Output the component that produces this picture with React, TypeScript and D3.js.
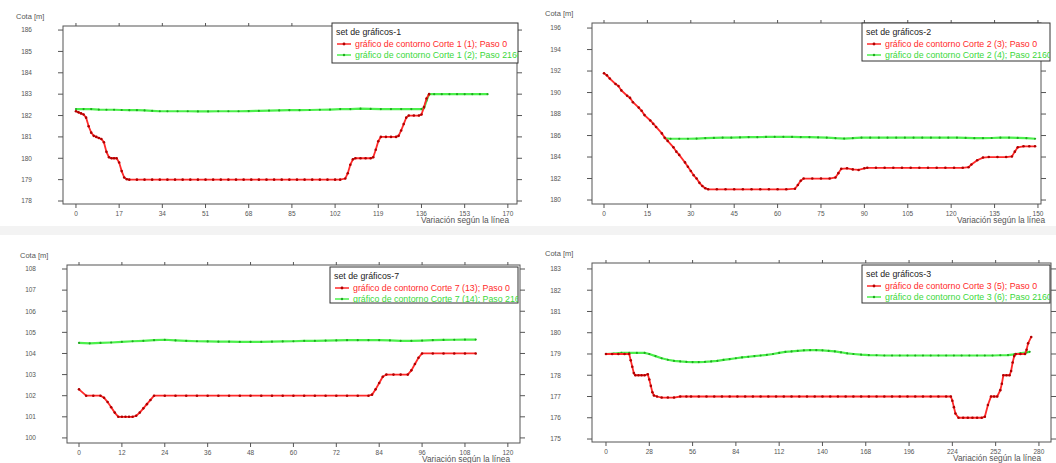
import React from "react";
import * as d3 from "d3";

type Pt = [number, number];

// ---------- Panel 1 ----------
const P1_X_TICKS = [0, 17, 34, 51, 68, 85, 102, 119, 136, 153, 170];
const P1_Y_TICKS = [178, 179, 180, 181, 182, 183, 184, 185, 186];
const P1_RED: Pt[] = [
  [0, 182.2], [1, 182.15], [2, 182.1], [3, 182.05], [4, 181.9], [5, 181.5], [6, 181.2], [7, 181.05], [8, 181.0], [9, 180.95],
  [10, 180.9], [11, 180.75], [12, 180.3], [13, 180.05], [14, 180.0], [15, 180.0], [16, 180.0], [17, 179.8], [18, 179.4], [19, 179.1],
  [20, 179.02], [21, 179.0], [24, 179], [27, 179], [30, 179], [33, 179], [36, 179], [39, 179], [42, 179], [45, 179], [48, 179],
  [51, 179], [54, 179], [57, 179], [60, 179], [63, 179], [66, 179], [69, 179], [72, 179], [75, 179], [78, 179], [81, 179],
  [84, 179], [87, 179], [90, 179], [93, 179], [96, 179], [99, 179], [102, 179], [104, 179], [106, 179.05], [107, 179.3],
  [108, 179.7], [109, 179.95], [110, 180.0], [112, 180], [114, 180], [116, 180], [117, 180.05], [118, 180.4], [119, 180.8],
  [120, 181.0], [122, 181], [124, 181], [126, 181], [127, 181.05], [128, 181.3], [129, 181.6], [130, 181.9], [131, 182.0],
  [133, 182], [135, 182], [136, 182.05], [137, 182.4], [138, 182.8], [139, 183.0],
];
const P1_GREEN: Pt[] = [
  [0, 182.3], [3, 182.3], [6, 182.3], [9, 182.28], [12, 182.27], [15, 182.27], [18, 182.26], [21, 182.25], [24, 182.25],
  [27, 182.24], [30, 182.22], [33, 182.2], [36, 182.2], [40, 182.2], [44, 182.2], [48, 182.19], [52, 182.19], [56, 182.2],
  [60, 182.2], [64, 182.2], [68, 182.21], [72, 182.22], [76, 182.23], [80, 182.24], [84, 182.25], [88, 182.25], [92, 182.26],
  [96, 182.27], [100, 182.28], [104, 182.3], [108, 182.3], [112, 182.32], [116, 182.31], [120, 182.3], [124, 182.3],
  [128, 182.3], [132, 182.3], [136, 182.3], [137, 182.35], [138, 182.7], [139, 183.0], [141, 183], [144, 183], [147, 183],
  [150, 183], [153, 183], [156, 183], [159, 183], [162, 183],
];

// ---------- Panel 2 ----------
const P2_X_TICKS = [0, 15, 30, 45, 60, 75, 90, 105, 120, 135, 150];
const P2_Y_TICKS = [180, 182, 184, 186, 188, 190, 192, 194, 196];
const P2_RED: Pt[] = [
  [0, 191.8], [1, 191.6], [2, 191.3], [4, 190.8], [5, 190.6], [6, 190.2], [8, 189.7], [9, 189.5], [10, 189.1], [12, 188.6],
  [13, 188.3], [14, 187.9], [16, 187.4], [17, 187.1], [18, 186.8], [20, 186.2], [21, 185.8], [22, 185.5], [24, 184.9],
  [25, 184.5], [26, 184.2], [28, 183.5], [29, 183.1], [30, 182.7], [31, 182.3], [32, 182.0], [33, 181.6], [34, 181.3],
  [35, 181.1], [36, 181.0], [39, 181], [42, 181], [45, 181], [48, 181], [51, 181], [54, 181], [57, 181], [60, 181], [63, 181],
  [66, 181.05], [67, 181.4], [68, 181.8], [69, 182.0], [72, 182], [75, 182], [78, 182], [80, 182.1], [81, 182.5], [82, 182.9],
  [84, 182.95], [86, 182.85], [88, 182.8], [90, 182.95], [91, 183.0], [94, 183], [97, 183], [100, 183], [103, 183], [106, 183],
  [109, 183], [112, 183], [115, 183], [118, 183], [121, 183], [124, 183], [126, 183.05], [127, 183.3], [129, 183.7],
  [131, 183.95], [133, 184], [136, 184], [139, 184], [141, 184.05], [142, 184.5], [143, 184.9], [145, 185.0], [147, 185.0],
  [149, 185.0],
];
const P2_GREEN: Pt[] = [
  [21, 185.75], [23, 185.7], [26, 185.7], [29, 185.7], [32, 185.72], [35, 185.75], [38, 185.78], [41, 185.8], [44, 185.8],
  [47, 185.82], [50, 185.85], [53, 185.85], [56, 185.87], [59, 185.88], [62, 185.88], [65, 185.87], [68, 185.86], [71, 185.85],
  [74, 185.82], [77, 185.8], [80, 185.75], [83, 185.72], [86, 185.75], [89, 185.8], [92, 185.8], [95, 185.8], [98, 185.8],
  [101, 185.8], [104, 185.8], [107, 185.8], [110, 185.8], [113, 185.8], [116, 185.8], [119, 185.8], [122, 185.8],
  [125, 185.78], [128, 185.75], [131, 185.75], [134, 185.77], [137, 185.8], [140, 185.8], [143, 185.78], [146, 185.75],
  [149, 185.7],
];

// ---------- Panel 3 ----------
const P3_X_TICKS = [0, 12, 24, 36, 48, 60, 72, 84, 96, 108, 120];
const P3_Y_TICKS = [100, 101, 102, 103, 104, 105, 106, 107, 108];
const P3_RED: Pt[] = [
  [0, 102.3], [2, 102.0], [4, 102.0], [6, 102.0], [7, 101.9], [8, 101.7], [9, 101.45], [10, 101.2], [11, 101.0], [12, 101],
  [13, 101], [14, 101], [15, 101], [16, 101.05], [17, 101.2], [18, 101.4], [19, 101.6], [20, 101.8], [21, 102.0], [24, 102],
  [27, 102], [30, 102], [33, 102], [36, 102], [39, 102], [42, 102], [45, 102], [48, 102], [51, 102], [54, 102], [57, 102],
  [60, 102], [63, 102], [66, 102], [69, 102], [72, 102], [75, 102], [78, 102], [81, 102], [82, 102.05], [83, 102.3],
  [84, 102.6], [85, 102.9], [86, 103.0], [88, 103], [90, 103], [92, 103], [93, 103.2], [94, 103.5], [95, 103.8], [96, 104.0],
  [99, 104], [102, 104], [105, 104], [108, 104], [111, 104],
];
const P3_GREEN: Pt[] = [
  [0, 104.5], [3, 104.48], [6, 104.5], [9, 104.52], [12, 104.55], [15, 104.58], [18, 104.6], [21, 104.63], [24, 104.65],
  [27, 104.62], [30, 104.6], [33, 104.58], [36, 104.57], [39, 104.56], [42, 104.56], [45, 104.55], [48, 104.55], [51, 104.55],
  [54, 104.56], [57, 104.57], [60, 104.58], [63, 104.6], [66, 104.6], [69, 104.61], [72, 104.62], [75, 104.63], [78, 104.63],
  [81, 104.63], [84, 104.63], [87, 104.62], [90, 104.6], [93, 104.6], [96, 104.61], [99, 104.63], [102, 104.64], [105, 104.65],
  [108, 104.66], [111, 104.66],
];

// ---------- Panel 4 ----------
const P4_X_TICKS = [0, 28, 56, 84, 112, 140, 168, 196, 224, 252, 280];
const P4_Y_TICKS = [175, 176, 177, 178, 179, 180, 181, 182, 183];
const P4_RED: Pt[] = [
  [0, 179.0], [4, 179], [8, 179], [12, 179], [15, 179.0], [16, 178.7], [17, 178.4], [18, 178.1], [19, 178.0], [21, 178],
  [23, 178], [25, 178], [27, 178.05], [28, 177.8], [29, 177.5], [30, 177.2], [31, 177.05], [33, 177.0], [36, 176.95],
  [40, 176.95], [44, 176.95], [48, 177.0], [52, 177], [55, 177], [60, 177], [65, 177], [70, 177], [75, 177], [80, 177],
  [85, 177], [90, 177], [95, 177], [100, 177], [105, 177], [110, 177], [115, 177], [120, 177], [125, 177], [130, 177],
  [135, 177], [140, 177], [145, 177], [150, 177], [155, 177], [160, 177], [165, 177], [170, 177], [175, 177], [180, 177],
  [185, 177], [190, 177], [195, 177], [200, 177], [205, 177], [210, 177], [215, 177], [220, 177], [223, 177.0], [224, 176.8],
  [225, 176.5], [226, 176.2], [228, 176.0], [231, 176], [234, 176], [237, 176], [240, 176], [243, 176], [245, 176.05],
  [247, 176.6], [249, 177.0], [251, 177], [253, 177], [255, 177.3], [256, 177.6], [257, 178.0], [259, 178], [261, 178],
  [262, 178.2], [263, 178.6], [264, 178.9], [265, 179.0], [268, 179], [271, 179], [272, 179.2], [273, 179.5], [275, 179.8],
];
const P4_GREEN: Pt[] = [
  [0, 179.0], [5, 179.02], [10, 179.05], [15, 179.05], [20, 179.05], [25, 179.05], [28, 179.0], [32, 178.9], [36, 178.8],
  [40, 178.73], [44, 178.68], [48, 178.65], [52, 178.63], [56, 178.62], [60, 178.62], [64, 178.63], [68, 178.65], [72, 178.68],
  [76, 178.72], [80, 178.76], [84, 178.8], [88, 178.84], [92, 178.87], [96, 178.9], [100, 178.93], [104, 178.96], [108, 179.0],
  [112, 179.05], [116, 179.1], [120, 179.12], [124, 179.15], [128, 179.17], [132, 179.18], [136, 179.18], [140, 179.17],
  [144, 179.15], [148, 179.12], [152, 179.08], [156, 179.03], [160, 179.0], [165, 178.97], [170, 178.95], [175, 178.94],
  [180, 178.93], [185, 178.93], [190, 178.93], [195, 178.93], [200, 178.93], [205, 178.93], [210, 178.93], [215, 178.93],
  [220, 178.93], [225, 178.93], [230, 178.93], [235, 178.93], [240, 178.93], [245, 178.93], [250, 178.93], [255, 178.94],
  [260, 178.95], [264, 178.98], [268, 179.03], [272, 179.08], [274, 179.1],
];

const LEGEND_TITLES = ["set de gráficos-1", "set de gráficos-2", "set de gráficos-7", "set de gráficos-3"];
const LEGEND_RED = [
  "gráfico de contorno Corte 1 (1); Paso 0",
  "gráfico de contorno Corte 2 (3); Paso 0",
  "gráfico de contorno Corte 7 (13); Paso 0",
  "gráfico de contorno Corte 3 (5); Paso 0",
];
const LEGEND_GREEN = [
  "gráfico de contorno Corte 1 (2); Paso 2160",
  "gráfico de contorno Corte 2 (4); Paso 2160",
  "gráfico de contorno Corte 7 (14); Paso 2160",
  "gráfico de contorno Corte 3 (6); Paso 2160",
];
const Y_TITLE = "Cota [m]";
const X_TITLE = "Variación según la línea";

const FONT = "'Liberation Sans', Arial, sans-serif";
const RED = "#ff2a2a";
const RED_MK = "#b00000";
const GREEN = "#4cf04c";
const GREEN_MK = "#1fa81f";
const AXIS = "#555";

interface PanelCfg {
  id: number;
  box: { l: number; t: number; r: number; b: number };
  xDom: [number, number];
  yDom: [number, number];
  xTicks: number[];
  yTicks: number[];
  red: Pt[];
  green: Pt[];
  legend: { x: number; y: number; w: number; h: number };
  titleEnd: number;
}

function Panel({ c }: { c: PanelCfg }) {
  const { l, t, r, b } = c.box;
  const x = d3.scaleLinear().domain(c.xDom).range([l, r]);
  const y = d3.scaleLinear().domain(c.yDom).range([b, t]);
  const line = d3.line<Pt>().x((d) => x(d[0])).y((d) => y(d[1]));
  const clipId = `lg${c.id}`;
  const plotClip = `pc${c.id}`;
  const lg = c.legend;
  return (
    <g fontFamily={FONT}>
      <defs>
        <clipPath id={clipId}>
          <rect x={lg.x} y={lg.y} width={lg.w} height={lg.h} />
        </clipPath>
        <clipPath id={plotClip}>
          <rect x={l} y={t} width={r - l} height={b - t} />
        </clipPath>
      </defs>
      <rect x={l} y={t} width={r - l} height={b - t} fill="#fff" stroke={AXIS} strokeWidth={1} />
      {c.yTicks.map((v) => (
        <g key={"y" + v}>
          <line x1={l - 5} x2={l} y1={y(v)} y2={y(v)} stroke={AXIS} />
          <line x1={r} x2={r + 5} y1={y(v)} y2={y(v)} stroke={AXIS} />
          <text x={l - 31} y={y(v) + 2.3} fontSize={6.5} textAnchor="end" fill="#555">
            {v}
          </text>
        </g>
      ))}
      {c.xTicks.map((v) => (
        <g key={"x" + v}>
          <line x1={x(v)} x2={x(v)} y1={b} y2={b + 4} stroke={AXIS} />
          <line x1={x(v)} x2={x(v)} y1={t - 3} y2={t} stroke={AXIS} />
          <text x={x(v)} y={b + 12} fontSize={6.5} textAnchor="middle" fill="#555">
            {v}
          </text>
        </g>
      ))}
      <text x={l - 47} y={t - 7} fontSize={7.5} fill="#555">
        {Y_TITLE}
      </text>
      <text x={c.titleEnd} y={b + 19} fontSize={8.3} textAnchor="end" fill="#555">
        {X_TITLE}
      </text>
      <g clipPath={`url(#${plotClip})`}>
        <path d={line(c.green) || ""} fill="none" stroke={GREEN} strokeWidth={2.2} />
        {c.green.map((d, i) => (
          <circle key={"g" + i} cx={x(d[0])} cy={y(d[1])} r={1.1} fill={GREEN_MK} />
        ))}
        <path d={line(c.red) || ""} fill="none" stroke={RED} strokeWidth={1.8} />
        {c.red.map((d, i) => (
          <circle key={"r" + i} cx={x(d[0])} cy={y(d[1])} r={1.3} fill={RED_MK} />
        ))}
      </g>
      <rect x={lg.x} y={lg.y} width={lg.w} height={lg.h} fill="#fff" stroke="#333" strokeWidth={1} />
      <g clipPath={`url(#${clipId})`}>
        <text x={lg.x + 4} y={lg.y + 12} fontSize={8.8} fill="#222">
          {LEGEND_TITLES[c.id]}
        </text>
        <line x1={lg.x + 5} x2={lg.x + 19} y1={lg.y + 21} y2={lg.y + 21} stroke={RED} strokeWidth={1.5} />
        <circle cx={lg.x + 12} cy={lg.y + 21} r={1.4} fill={RED_MK} />
        <text x={lg.x + 23} y={lg.y + 24} fontSize={8.8} fill={RED}>
          {LEGEND_RED[c.id]}
        </text>
        <line x1={lg.x + 5} x2={lg.x + 19} y1={lg.y + 32} y2={lg.y + 32} stroke={GREEN} strokeWidth={1.5} />
        <circle cx={lg.x + 12} cy={lg.y + 32} r={1.2} fill={GREEN_MK} />
        <text x={lg.x + 23} y={lg.y + 35} fontSize={8.8} fill="#3ad83a">
          {LEGEND_GREEN[c.id]}
        </text>
      </g>
    </g>
  );
}

const PANELS: PanelCfg[] = [
  {
    id: 0,
    box: { l: 63, t: 26, r: 517, b: 204 },
    xDom: [-5.1, 173.6],
    yDom: [177.86, 186.19],
    xTicks: P1_X_TICKS,
    yTicks: P1_Y_TICKS,
    red: P1_RED,
    green: P1_GREEN,
    legend: { x: 332, y: 23, w: 186, h: 40 },
    titleEnd: 509,
  },
  {
    id: 1,
    box: { l: 592, t: 23, r: 1041, b: 204 },
    xDom: [-4.15, 151.05],
    yDom: [179.63, 196.47],
    xTicks: P2_X_TICKS,
    yTicks: P2_Y_TICKS,
    red: P2_RED,
    green: P2_GREEN,
    legend: { x: 862, y: 23, w: 188, h: 38 },
    titleEnd: 1045,
  },
  {
    id: 2,
    box: { l: 67, t: 265, r: 520, b: 443 },
    xDom: [-3.36, 123.4],
    yDom: [99.76, 108.19],
    xTicks: P3_X_TICKS,
    yTicks: P3_Y_TICKS,
    red: P3_RED,
    green: P3_GREEN,
    legend: { x: 330, y: 267, w: 188, h: 36 },
    titleEnd: 510,
  },
  {
    id: 3,
    box: { l: 592, t: 263, r: 1051, b: 442 },
    xDom: [-9.05, 287.8],
    yDom: [174.86, 183.28],
    xTicks: P4_X_TICKS,
    yTicks: P4_Y_TICKS,
    red: P4_RED,
    green: P4_GREEN,
    legend: { x: 862, y: 265, w: 188, h: 38 },
    titleEnd: 1041,
  },
];

export default function App() {
  return (
    <svg
      width={1056}
      height={463}
      style={{ position: "absolute", left: 0, top: 0, display: "block", background: "#fff" }}
    >
      <rect x={0} y={0} width={1056} height={463} fill="#fff" />
      <rect x={0} y={226} width={1056} height={9} fill="#f3f3f3" />
      {PANELS.map((p) => (
        <Panel key={p.id} c={p} />
      ))}
    </svg>
  );
}
